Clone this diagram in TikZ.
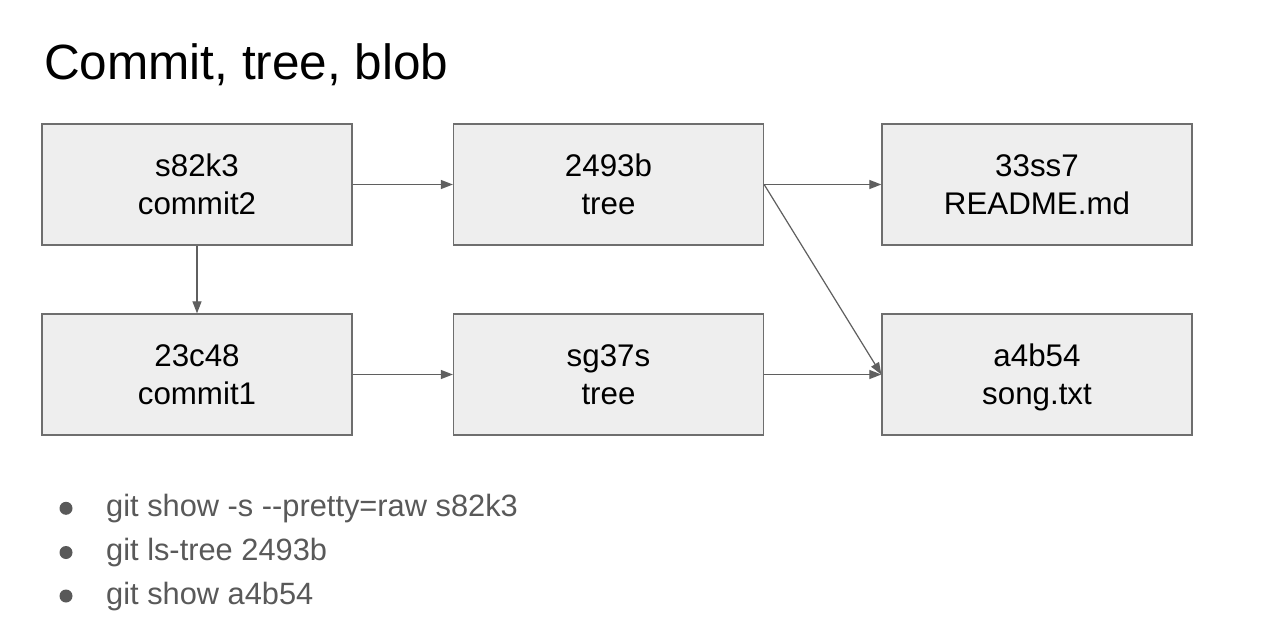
\documentclass[tikz,border=0pt]{standalone}
\usepackage{fontspec}
\setmainfont{Liberation Sans}
\usetikzlibrary{arrows.meta}
\definecolor{boxfill}{HTML}{EEEEEE}
\definecolor{boxline}{HTML}{6E6E6E}
\definecolor{arrline}{HTML}{5F5F5F}
\definecolor{bultext}{HTML}{595959}
\tikzset{
  objbox/.style={draw=boxline, line width=1.3pt, fill=boxfill, minimum width=310pt, minimum height=121pt, inner sep=0pt, align=center, text height=60.9pt, text depth=0pt, font=\fontsize{31.3}{38.3}\selectfont, text=black},
  arr/.style={draw=arrline, line width=1.2pt, -{Triangle[length=12pt,width=9pt]}},
  bultxt/.style={anchor=base west, inner sep=0pt, text=bultext, font=\fontsize{30.8}{36}\selectfont},
  bulpt/.style={circle, fill=bultext, minimum size=13pt, inner sep=0pt}
}
\begin{document}
\begin{tikzpicture}[x=1pt,y=-1pt]
\useasboundingbox[fill=white] (0,0) rectangle (1261,644);
\node[anchor=base west, inner sep=0pt, font=\fontsize{49.5}{58}\selectfont] (title) at (44,80) {Commit, tree, blob};

\node[objbox] (c2) at (197,184.5) {s82k3\\commit2};
\node[objbox] (t2) at (608.5,184.5) {2493b\\tree};
\node[objbox] (b1) at (1037,184.5) {33ss7\\README.md};
\node[objbox] (c1) at (197,374.5) {23c48\\commit1};
\node[objbox] (t1) at (608.5,374.5) {sg37s\\tree};
\node[objbox] (b2) at (1037,374.5) {a4b54\\song.txt};

\draw[arr] (c2.east) -- (t2.west);
\draw[arr] (t2.east) -- (b1.west);
\draw[arr] (t2.east) -- (b2.west);
\draw[arr] (c2.south) -- (c1.north);
\draw[arr] (c1.east) -- (t1.west);
\draw[arr] (t1.east) -- (b2.west);

\node[bulpt] (p1) at (66,508.3) {};
\node[bulpt] (p2) at (66,552.5) {};
\node[bulpt] (p3) at (66,596) {};
\node[bultxt] (l1) at (106,516.7) {git show -s -{}-pretty=raw s82k3};
\node[bultxt] (l2) at (106,560.8) {git ls-tree 2493b};
\node[bultxt] (l3) at (106,604.3) {git show a4b54};
\end{tikzpicture}
\end{document}
